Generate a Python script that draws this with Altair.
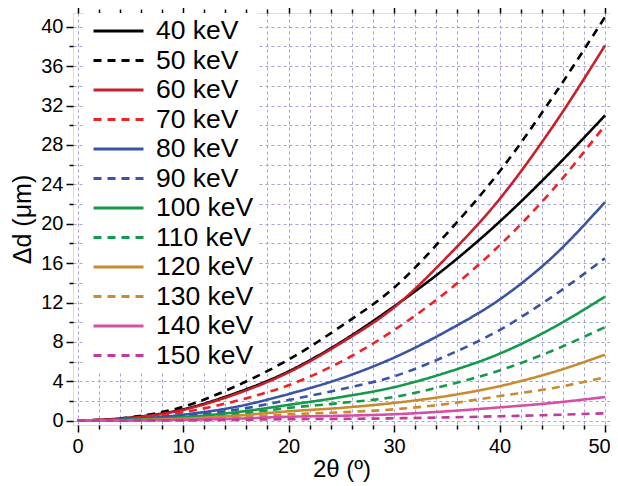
import altair as alt
import pandas as pd

# ---- data ----
x_vals = [0, 5, 10, 15, 20, 25, 30, 35, 40, 45, 50]
series_labels = ["40 keV", "50 keV", "60 keV", "70 keV", "80 keV", "90 keV",
                 "100 keV", "110 keV", "120 keV", "130 keV", "140 keV", "150 keV"]
d40 = [0, 0.30, 1.15, 2.8, 5.0, 8.0, 11.6, 15.6, 20.2, 25.4, 31.0]
d50 = [0, 0.35, 1.40, 3.5, 6.2, 9.6, 13.5, 19.0, 25.3, 32.8, 41.0]
d60 = [0, 0.28, 1.10, 2.7, 4.9, 7.9, 11.5, 16.6, 22.5, 29.8, 38.1]
d70 = [0, 0.20, 0.85, 2.0, 3.6, 6.0, 9.2, 13.1, 17.8, 23.4, 30.0]
d80 = [0, 0.15, 0.60, 1.4, 2.7, 4.3, 6.4, 9.1, 12.3, 16.6, 22.2]
d90 = [0, 0.10, 0.45, 1.1, 2.1, 3.2, 4.5, 6.6, 9.2, 12.6, 16.5]
d100 = [0, 0.08, 0.35, 0.85, 1.6, 2.4, 3.4, 4.9, 6.8, 9.4, 12.6]
d110 = [0, 0.06, 0.27, 0.65, 1.3, 1.8, 2.4, 3.6, 5.1, 7.1, 9.5]
d120 = [0, 0.05, 0.20, 0.50, 0.95, 1.3, 1.8, 2.5, 3.5, 4.9, 6.7]
d130 = [0, 0.03, 0.13, 0.30, 0.65, 0.85, 1.15, 1.7, 2.5, 3.3, 4.4]
d140 = [0, 0.02, 0.08, 0.20, 0.40, 0.50, 0.65, 0.95, 1.35, 1.8, 2.4]
d150 = [0, 0.01, 0.03, 0.08, 0.15, 0.18, 0.24, 0.33, 0.45, 0.58, 0.75]
series_values = [d40, d50, d60, d70, d80, d90, d100, d110, d120, d130, d140, d150]

x_grid = list(range(0, 51, 2))
y_grid = list(range(0, 41, 2))

colors = ["#000000", "#000000", "#c8202a", "#ee2226", "#3a54a4", "#3a54a4",
          "#13994a", "#13994a", "#c98b2f", "#c98b2f", "#d64fa6", "#c43a9c"]
dashes = [[1, 0], [8, 6], [1, 0], [8, 6], [1, 0], [8, 6],
          [1, 0], [8, 6], [1, 0], [8, 6], [1, 0], [8, 6]]

rows = []
for lab, vals in zip(series_labels, series_values):
    for xv, yv in zip(x_vals, vals):
        rows.append({"x": xv, "d": yv, "series": lab})
df = pd.DataFrame(rows)

FONT = "Liberation Sans"
GRID = "#a3a3d6"

xscale = alt.Scale(domain=[-0.43, 50.47], nice=False, zero=False)
yscale = alt.Scale(domain=[-0.44, 41.4], nice=False, zero=False)

legend = alt.Legend(
    title=None, orient="none", legendX=11, legendY=0,
    fillColor="white", padding=4,
    symbolType="M-2,0H2", symbolSize=625, symbolStrokeWidth=3,
    symbolOffset=16.5,
    labelFont=FONT, labelFontSize=26.5, labelColor="black",
    labelOffset=23.5, rowPadding=1.5, labelLimit=300,
)

lines = alt.Chart(df).mark_line(strokeWidth=2.6, interpolate="monotone", clip=True).encode(
    x=alt.X("x:Q", scale=xscale, title="2θ (º)",
            axis=alt.Axis(values=x_grid,
                          labelExpr="datum.value % 10 === 0 ? datum.label : ''",
                          grid=True, gridColor=GRID, gridDash=[3, 3], gridWidth=1,
                          domain=False, tickColor="black", tickWidth=1.5,
                          tickSize={"condition": {"test": "datum.value % 10 === 0", "value": 7}, "value": 4},
                          labelOffset={"condition": {"test": "datum.value === 50", "value": -6}, "value": 0},
                          labelFont=FONT, labelFontSize=20, labelColor="black", labelPadding=4,
                          labelFlush=False,
                          titleFont=FONT, titleFontSize=24, titleFontWeight="normal",
                          titleColor="black", titlePadding=1)),
    y=alt.Y("d:Q", scale=yscale, title="Δd (μm)",
            axis=alt.Axis(values=y_grid,
                          labelExpr="datum.value % 4 === 0 ? datum.label : ''",
                          grid=True, gridColor=GRID, gridDash=[3, 3], gridWidth=1,
                          domain=False, tickColor="black", tickWidth=1.5,
                          tickSize={"condition": {"test": "datum.value % 4 === 0", "value": 7}, "value": 4},
                          labelFont=FONT, labelFontSize=20, labelColor="black", labelPadding=3,
                          labelFlush=False,
                          titleFont=FONT, titleFontSize=25, titleFontWeight="normal",
                          titleColor="black", titlePadding=5)),
    color=alt.Color("series:N", sort=series_labels,
                    scale=alt.Scale(domain=series_labels, range=colors), legend=legend),
    strokeDash=alt.StrokeDash("series:N", sort=series_labels,
                              scale=alt.Scale(domain=series_labels, range=dashes), legend=legend),
)

mirror = alt.Chart(df).mark_line(opacity=0).encode(
    x=alt.X("x:Q", scale=xscale, title=None,
            axis=alt.Axis(orient="top", values=x_grid, labels=False, grid=False, domain=False,
                          tickColor="black", tickWidth=1.5,
                          tickSize={"condition": {"test": "datum.value % 10 === 0", "value": 7}, "value": 4})),
    y=alt.Y("d:Q", scale=yscale, title=None,
            axis=alt.Axis(orient="right", values=y_grid, labels=False, grid=False, domain=False,
                          tickColor="black", tickWidth=1.5,
                          tickSize={"condition": {"test": "datum.value % 4 === 0", "value": 7}, "value": 4})),
    detail="series:N",
)

chart = alt.layer(lines, mirror).resolve_axis(x="independent", y="independent").properties(
    width=537, height=412,
    autosize=alt.AutoSizeParams(type="none"),
    padding={"left": 65, "top": 5, "right": 0, "bottom": 58},
).configure_view(stroke="black", strokeWidth=2.5).configure(background="white")

chart.save("out.html", embed_options={"renderer": "svg", "actions": False})
